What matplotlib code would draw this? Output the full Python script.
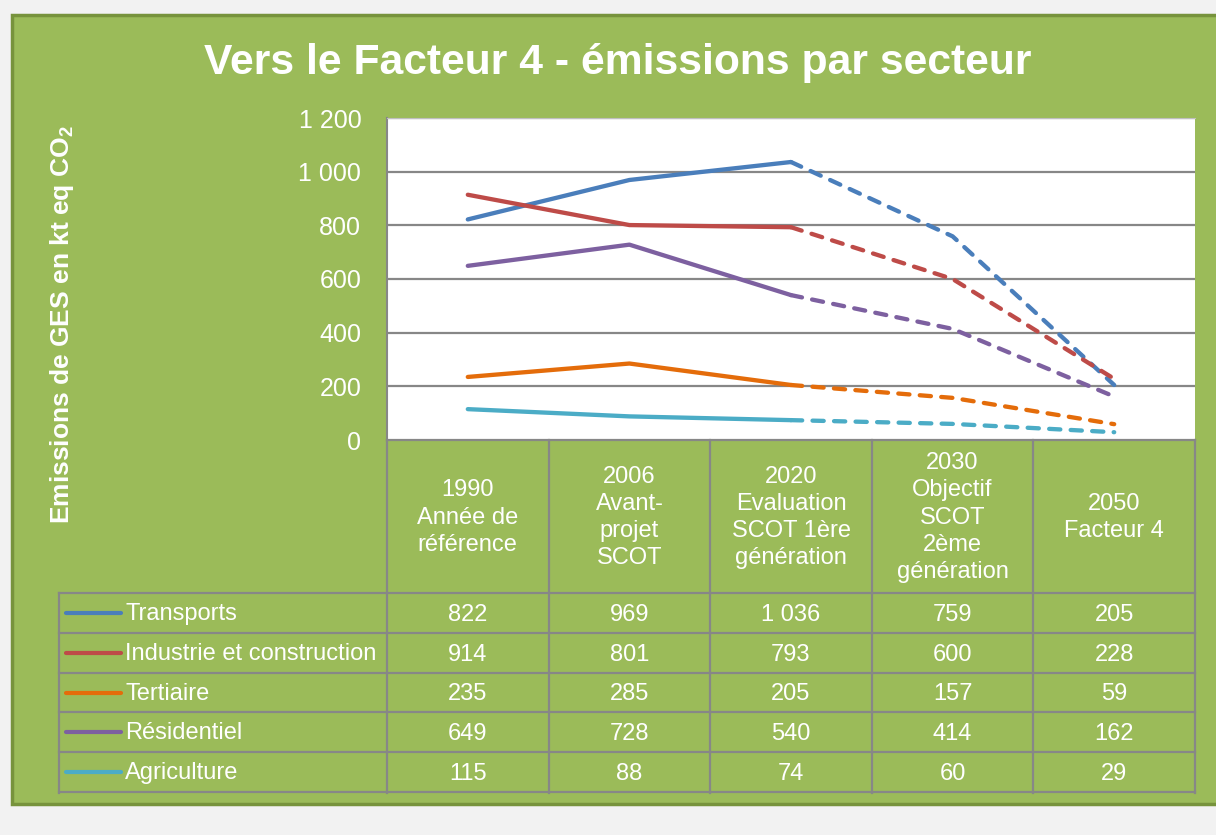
import numpy as np
import matplotlib
matplotlib.use("Agg")
import matplotlib.pyplot as plt
from matplotlib.patches import Rectangle

plt.rcParams['font.family'] = ['Liberation Sans', 'DejaVu Sans']

titre = "Vers le Facteur 4 - émissions par secteur"
ylabel = "Emissions de GES en kt eq CO$_\\mathregular{2}$"
colonnes = ["1990\nAnnée de\nréférence", "2006\nAvant-\nprojet\nSCOT",
            "2020\nEvaluation\nSCOT 1ère\ngénération",
            "2030\nObjectif\nSCOT\n2ème\ngénération", "2050\nFacteur 4"]
secteurs = ["Transports", "Industrie et construction", "Tertiaire", "Résidentiel", "Agriculture"]
transports = [822, 969, 1036, 759, 205]
industrie = [914, 801, 793, 600, 228]
tertiaire = [235, 285, 205, 157, 59]
residentiel = [649, 728, 540, 414, 162]
agriculture = [115, 88, 74, 60, 29]
couleurs = ['#4A7EBB', '#BE4B48', '#E46C0A', '#7D60A0', '#4BACC6']
yticks = [0, 200, 400, 600, 800, 1000, 1200]

series = [transports, industrie, tertiaire, residentiel, agriculture]

W, H = 1216, 835
fig = plt.figure(figsize=(W/100, H/100), dpi=100)
fig.patch.set_facecolor('#F2F2F2')

vert = '#9BBB59'
gris = '#878787'
fig.patches.append(Rectangle((12/W, 1-804/H), 1.0, (804-15)/H, transform=fig.transFigure,
                             facecolor=vert, edgecolor='#77933C', lw=2.5, zorder=-10))

def fx(px):
    return px / W

def fy(py):
    return 1 - py / H

# zone du graphique
ax = fig.add_axes([fx(387), fy(440), fx(1195) - fx(387), fy(118) - fy(440)])
ax.set_facecolor('white')
x = np.arange(len(colonnes))
for vals, c in zip(series, couleurs):
    v = np.array(vals)
    ax.plot(x[:3], v[:3], color=c, lw=3.1, solid_capstyle='round', solid_joinstyle='round', zorder=3)
    ax.plot(x[2:], v[2:], color=c, lw=3.1, dashes=(2.6, 2.4), dash_capstyle='round',
            solid_joinstyle='round', zorder=3)
ax.set_xlim(-0.5, 4.5)
ax.set_ylim(0, 1200)
ax.set_yticks(yticks)
ax.set_yticklabels([f"{t:,}".replace(",", " ") for t in yticks], color='white', fontsize=18)
ax.tick_params(axis='y', length=0, pad=18.5)
ax.set_xticks([])
for t in yticks[1:]:
    ax.axhline(t, color=gris, lw=1.6, zorder=1)
for s in ['right', 'bottom']:
    ax.spines[s].set_visible(False)
ax.spines['top'].set_color('#BFBFBF')
ax.spines['left'].set_color(gris)
ax.spines['left'].set_linewidth(1.5)

fig.text(fx(62), fy(325), ylabel, rotation=90, color='white', fontsize=19,
         fontweight='bold', ha='center', va='center')
fig.text(fx(618), fy(63), titre, color='white', fontsize=30.7, fontweight='bold',
         ha='center', va='center')

# tableau de données
tb = fig.add_axes([fx(59), fy(793), fx(1195) - fx(59), fy(440) - fy(793)])
tb.set_facecolor('none')
x0 = -0.5 - (387 - 59) / 161.6
tb.set_xlim(x0, 4.5)
tb.set_ylim(353, 0)
tb.axis('off')
h_tete = 153
h_ligne = 39.8
for k in range(6):
    tb.plot([k - 0.5, k - 0.5], [0, 353], color=gris, lw=1.6, clip_on=False)
tb.plot([x0, x0], [h_tete, 353], color=gris, lw=1.6, clip_on=False)
tb.plot([-0.5, 4.5], [0, 0], color=gris, lw=1.6, clip_on=False)
for i in range(6):
    yy = h_tete + i * h_ligne
    tb.plot([x0, 4.5], [yy, yy], color=gris, lw=1.6, clip_on=False)

for j, lab in enumerate(colonnes):
    tb.text(j, h_tete / 2 + 1, lab, ha='center', va='center', multialignment='center',
            color='white', fontsize=17, linespacing=1.3)

for i, (nom, vals, c) in enumerate(zip(secteurs, series, couleurs)):
    yc = h_tete + (i + 0.5) * h_ligne
    tb.plot([x0 + 7/161.6, x0 + 62/161.6], [yc, yc], color=c, lw=3, solid_capstyle='round')
    tb.text(x0 + 66/161.6, yc + 1, nom, ha='left', va='center', color='white', fontsize=17)
    for j, v in enumerate(vals):
        tb.text(j, yc + 2, f"{v:,}".replace(",", " "), ha='center', va='center',
                color='white', fontsize=17)

fig.savefig("out.png", dpi=100, facecolor=fig.get_facecolor())
